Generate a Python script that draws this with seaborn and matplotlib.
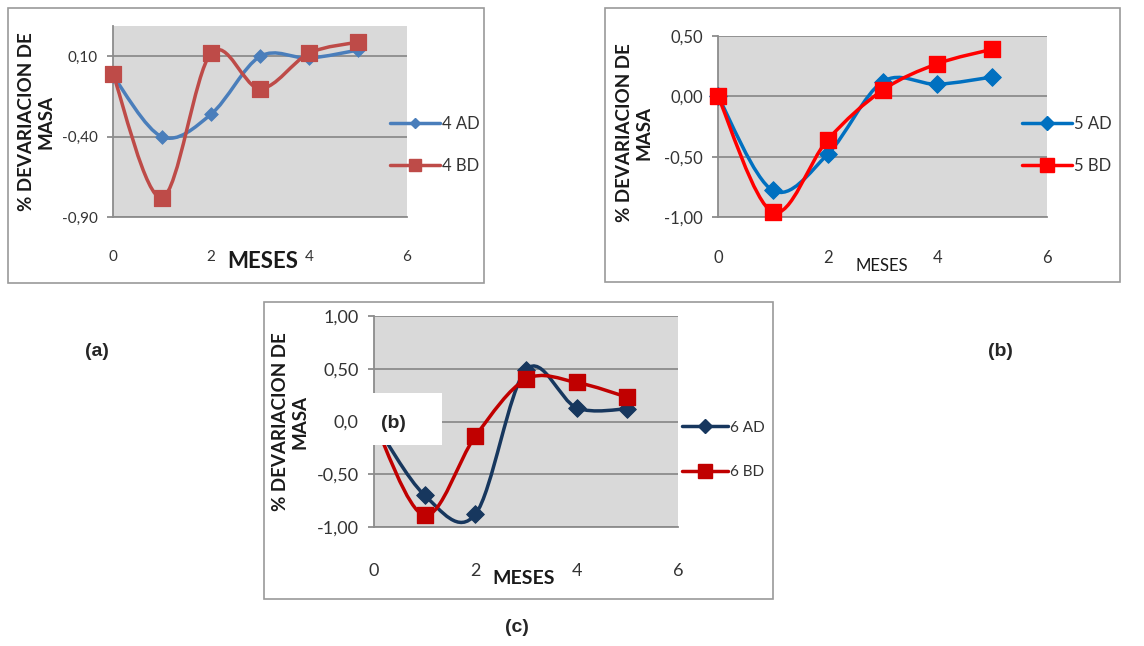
import matplotlib
matplotlib.use("Agg")
import matplotlib.pyplot as plt
import seaborn as sns
import numpy as np
import pandas as pd
from matplotlib.path import Path
from matplotlib.patches import PathPatch, Rectangle
from matplotlib.lines import Line2D

# data
meses = [0, 1, 2, 3, 4, 5]
ad4 = [-0.02, -0.40, -0.26, 0.10, 0.09, 0.14]
bd4 = [-0.01, -0.78, 0.12, -0.10, 0.12, 0.19]
ad5 = [0.00, -0.78, -0.48, 0.12, 0.10, 0.16]
bd5 = [0.00, -0.96, -0.36, 0.05, 0.27, 0.39]
ad6 = [0.00, -0.70, -0.88, 0.49, 0.13, 0.12]
bd6 = [0.00, -0.89, -0.14, 0.40, 0.37, 0.23]

xticks = [0, 2, 4, 6]
yticks_a = [-0.90, -0.40, 0.10]
ylabels_a = ["-0,90", "-0,40", "0,10"]
yticks_b = [-1.00, -0.50, 0.00, 0.50]
ylabels_b = ["-1,00", "-0,50", "0,00", "0,50"]
yticks_c = [-1.00, -0.50, 0.00, 0.50, 1.00]
ylabels_c = ["-1,00", "-0,50", "0,0", "0,50", "1,00"]

sns.set_style("white")
plt.rcParams['font.family'] = ['Lato', 'DejaVu Sans']

W, H = 1144, 646
fig = plt.figure(figsize=(W / 100, H / 100), dpi=100)


def px_rect(l, t, r, b):
    return [l / W, 1 - b / H, (r - l) / W, (b - t) / H]


def smooth(ax, x, y, color, lw):
    # excel style smoothed line (catmull-rom as cubic bezier)
    pts = np.column_stack([x, y]).astype(float)
    ext = np.vstack([pts[0], pts, pts[-1]])
    verts = [pts[0]]
    codes = [Path.MOVETO]
    for i in range(len(pts) - 1):
        p0, p1, p2, p3 = ext[i], ext[i + 1], ext[i + 2], ext[i + 3]
        verts += [p1 + (p2 - p0) / 6, p2 - (p3 - p1) / 6, p2]
        codes += [Path.CURVE4] * 3
    ax.add_patch(PathPatch(Path(verts, codes), fill=False, edgecolor=color,
                           lw=lw, capstyle='round', joinstyle='round', zorder=3))


def frame(l, t, r, b):
    fig.patches.append(Rectangle((l / W, 1 - b / H), (r - l) / W, (b - t) / H,
                                 transform=fig.transFigure, facecolor='white',
                                 edgecolor='#9a9a9a', lw=1.2, zorder=-5))


def panel(rect, ad, bd, names, colors, yticks, ylabels, ylim, tick_fs, xpad,
          ms_d, ms_s, leg_anchor, leg_fs, leg_sp):
    ax = fig.add_axes(rect)
    ax.set_facecolor('#d9d9d9')
    ax.set_xlim(0, 6)
    ax.set_ylim(*ylim)
    ax.set_xticks(xticks)
    ax.set_yticks(yticks)
    ax.set_yticklabels(ylabels)
    ax.grid(axis='y', color='#8c8c8c', lw=1.3)
    ax.grid(axis='x', visible=False)
    ax.set_axisbelow(True)
    for s in ['top', 'right']:
        ax.spines[s].set_visible(False)
    for s in ['left', 'bottom']:
        ax.spines[s].set_color('#8c8c8c')
        ax.spines[s].set_linewidth(1.3)
    ax.tick_params(axis='y', left=True, length=4, width=1.3, color='#8c8c8c',
                   pad=7, labelsize=tick_fs, labelcolor='#333333')
    ax.tick_params(axis='x', bottom=False, length=0, pad=xpad,
                   labelsize=tick_fs, labelcolor='#333333')

    df = pd.DataFrame({'meses': meses, 'ad': ad, 'bd': bd})
    smooth(ax, df['meses'], df['ad'], colors[0], 2.5)
    smooth(ax, df['meses'], df['bd'], colors[1], 2.5)
    sns.scatterplot(data=df, x='meses', y='ad', marker='D', s=ms_d ** 2,
                    color=colors[0], edgecolor=colors[0], ax=ax, zorder=4,
                    clip_on=False)
    sns.scatterplot(data=df, x='meses', y='bd', marker='s', s=ms_s ** 2,
                    color=colors[1], edgecolor=colors[1], ax=ax, zorder=5,
                    clip_on=False)
    ax.set_xlabel("")
    ax.set_ylabel("")

    handles = [Line2D([], [], color=colors[0], lw=2.5, marker='D', ms=ms_d * 0.8),
               Line2D([], [], color=colors[1], lw=2.5, marker='s', ms=ms_s * 0.8)]
    ax.legend(handles, names, loc='center left', bbox_to_anchor=leg_anchor,
              frameon=False, fontsize=leg_fs, handlelength=3.0,
              handletextpad=0.15, labelspacing=leg_sp, borderpad=0,
              borderaxespad=0, labelcolor='#333333')
    return ax


# (a)
frame(8, 8, 484, 283)
panel(px_rect(113, 26, 407, 217), ad4, bd4, ["4 AD", "4 BD"],
      ['#4a7ebb', '#be4b48'], yticks_a, ylabels_a, (-0.90, 0.29), 11, 24,
      7, 11, (0.942, 0.378), 12, 1.55)
fig.text(263 / W, 1 - 262 / H, "MESES", ha='center', va='center',
         fontsize=16, fontweight='bold', color='#1a1a1a')
fig.text(36 / W, 1 - 122 / H, "% DEVARIACION DE\nMASA", rotation=90,
         ha='center', va='center', fontsize=13.5, fontweight='bold',
         color='#1a1a1a', linespacing=1.15, multialignment='center')

# (b)
frame(605, 8, 1120, 282)
panel(px_rect(718, 36, 1047, 217), ad5, bd5, ["5 AD", "5 BD"],
      ['#0070c0', '#ff0000'], yticks_b, ylabels_b, (-1.00, 0.50), 12, 24,
      9, 12, (0.924, 0.398), 12, 1.55)
fig.text(882 / W, 1 - 266 / H, "MESES", ha='center', va='center',
         fontsize=12, color='#1a1a1a')
fig.text(634 / W, 1 - 133 / H, "% DEVARIACION DE\nMASA", rotation=90,
         ha='center', va='center', fontsize=13.5, fontweight='bold',
         color='#1a1a1a', linespacing=1.15, multialignment='center')

# (c)
frame(264, 302, 773, 599)
panel(px_rect(374, 316, 678, 527), ad6, bd6, ["6 AD", "6 BD"],
      ['#17375e', '#c00000'], yticks_c, ylabels_c, (-1.00, 1.00), 13, 26,
      9, 12, (1.013, 0.365), 11, 2.0)
fig.text(524 / W, 1 - 579 / H, "MESES", ha='center', va='center',
         fontsize=14, fontweight='bold', color='#1a1a1a')
fig.text(290 / W, 1 - 422 / H, "% DEVARIACION DE\nMASA", rotation=90,
         ha='center', va='center', fontsize=13.5, fontweight='bold',
         color='#1a1a1a', linespacing=1.15, multialignment='center')

# white patch with stray "(b)" over panel (c)
fig.patches.append(Rectangle((363 / W, 1 - 445 / H), 79 / W, 52 / H,
                             transform=fig.transFigure, facecolor='white',
                             edgecolor='none', zorder=10))
fig.text(393 / W, 1 - 423 / H, "(b)", ha='center', va='center', fontsize=14,
         fontweight='bold', family='Liberation Sans', zorder=11)

# panel letters
fig.text(97 / W, 1 - 352 / H, "(a)", ha='center', va='center', fontsize=14,
         fontweight='bold', family='Liberation Sans')
fig.text(1000 / W, 1 - 352 / H, "(b)", ha='center', va='center', fontsize=14,
         fontweight='bold', family='Liberation Sans')
fig.text(517 / W, 1 - 627 / H, "(c)", ha='center', va='center', fontsize=14,
         fontweight='bold', family='Liberation Sans')

plt.savefig("out.png", dpi=100)
